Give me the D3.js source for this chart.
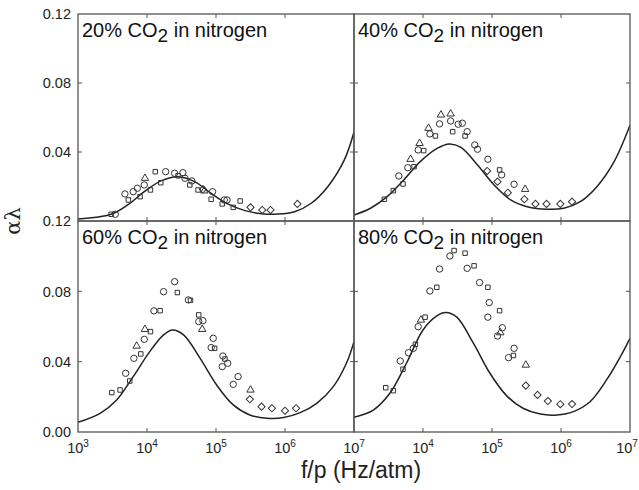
<!DOCTYPE html>
<html>
<head>
<meta charset="utf-8">
<script src="https://cdn.jsdelivr.net/npm/d3@7"></script>
<style>
  body { margin: 0; background: #fff; }
  svg { display: block; font-family: "Liberation Sans", Arial, sans-serif; }
</style>
</head>
<body>
<div id="chart"></div>
<script>
// x values are log10(f/p), y values are alpha*lambda
const mixtures = ['20%', '40%', '60%', '80%'];
const xTicks = [3, 4, 5, 6, 7];
const yTicks = [0, 0.04, 0.08, 0.12];

const curve20 = [[3.0,0.0012],[3.48,0.0039],[3.72,0.0093],[3.96,0.017],[4.21,0.0234],[4.45,0.0257],[4.69,0.0228],[4.93,0.016],[5.17,0.0099],[5.42,0.006],[5.66,0.0042],[5.90,0.0040],[6.14,0.0054],[6.38,0.0103],[6.62,0.0199],[6.86,0.0354],[7.0,0.0516]];
const curve40 = [[3.0,0.0035],[3.24,0.0074],[3.48,0.0141],[3.72,0.0238],[3.96,0.0344],[4.21,0.0422],[4.38,0.0447],[4.55,0.0427],[4.79,0.0325],[5.03,0.0209],[5.27,0.0122],[5.51,0.0083],[5.80,0.0068],[6.04,0.0074],[6.28,0.0112],[6.52,0.0199],[6.77,0.0344],[7.0,0.0555]];
const curve60 = [[3.0,0.0055],[3.32,0.0106],[3.56,0.0182],[3.80,0.0315],[4.04,0.0457],[4.24,0.0552],[4.37,0.058],[4.53,0.0552],[4.77,0.0419],[5.01,0.0267],[5.25,0.0154],[5.49,0.0097],[5.74,0.0078],[5.98,0.0082],[6.22,0.011],[6.46,0.0163],[6.70,0.0258],[6.89,0.0391],[7.0,0.0514]];
const curve80 = [[3.0,0.0084],[3.28,0.0125],[3.52,0.022],[3.76,0.0391],[4.0,0.058],[4.2,0.066],[4.33,0.0679],[4.49,0.0653],[4.73,0.0505],[4.97,0.0334],[5.21,0.0207],[5.45,0.0135],[5.70,0.0102],[5.94,0.0097],[6.18,0.0116],[6.42,0.0172],[6.66,0.0296],[6.86,0.0428],[7.0,0.0533]];

// o = circle, s = square, t = triangle, d = diamond
const points20 = [[3.48,0.0039,'s'],[3.54,0.0039,'o'],[3.68,0.0157,'o'],[3.73,0.0122,'s'],[3.80,0.017,'o'],[3.86,0.019,'o'],[3.90,0.0141,'s'],[3.96,0.0209,'o'],[3.97,0.0248,'t'],[4.05,0.018,'s'],[4.12,0.0286,'s'],[4.20,0.0222,'s'],[4.27,0.0286,'o'],[4.40,0.0277,'o'],[4.45,0.0262,'s'],[4.52,0.028,'o'],[4.55,0.0248,'o'],[4.62,0.0209,'s'],[4.65,0.0232,'o'],[4.74,0.018,'s'],[4.81,0.0184,'d'],[4.83,0.0175,'t'],[4.95,0.017,'o'],[4.93,0.0126,'s'],[5.12,0.0122,'o'],[5.16,0.0122,'o'],[5.09,0.0099,'s'],[5.25,0.0079,'s'],[5.35,0.0116,'s'],[5.50,0.0079,'d'],[5.67,0.0064,'d'],[5.79,0.0064,'d'],[6.18,0.0099,'d']];
const points40 = [[3.44,0.0126,'s'],[3.57,0.0176,'s'],[3.65,0.0261,'o'],[3.71,0.0215,'s'],[3.78,0.0309,'o'],[3.82,0.0358,'t'],[3.87,0.0315,'s'],[3.93,0.0412,'o'],[3.95,0.045,'t'],[4.01,0.0408,'s'],[4.08,0.0538,'t'],[4.10,0.0505,'o'],[4.18,0.0493,'s'],[4.24,0.0563,'o'],[4.26,0.0615,'t'],[4.40,0.0621,'t'],[4.40,0.058,'o'],[4.43,0.0518,'s'],[4.51,0.0561,'o'],[4.57,0.0567,'o'],[4.61,0.0493,'s'],[4.64,0.0518,'o'],[4.75,0.0441,'o'],[4.79,0.0416,'o'],[4.94,0.0358,'o'],[4.93,0.029,'d'],[5.11,0.0296,'s'],[5.14,0.0267,'o'],[5.08,0.0228,'d'],[5.32,0.0213,'o'],[5.23,0.0164,'d'],[5.48,0.0184,'t'],[5.47,0.0126,'d'],[5.63,0.0099,'d'],[5.79,0.0099,'d'],[5.99,0.0099,'d'],[6.16,0.0112,'d']];
const points60 = [[3.49,0.0224,'s'],[3.61,0.0239,'s'],[3.69,0.0334,'o'],[3.75,0.029,'s'],[3.81,0.0419,'o'],[3.85,0.0489,'t'],[3.91,0.0444,'s'],[3.96,0.0527,'o'],[3.97,0.0584,'t'],[4.05,0.0571,'s'],[4.10,0.0689,'o'],[4.19,0.069,'s'],[4.24,0.0798,'o'],[4.40,0.0855,'o'],[4.44,0.0793,'s'],[4.60,0.0751,'o'],[4.63,0.0749,'s'],[4.75,0.0666,'s'],[4.75,0.0628,'o'],[4.81,0.0633,'o'],[4.80,0.0584,'t'],[4.96,0.0533,'o'],[4.93,0.048,'o'],[4.98,0.0476,'s'],[5.10,0.0432,'o'],[5.13,0.0415,'s'],[5.17,0.0391,'o'],[5.09,0.0372,'o'],[5.32,0.0315,'o'],[5.25,0.0271,'o'],[5.50,0.0239,'t'],[5.49,0.0186,'d'],[5.66,0.0144,'d'],[5.81,0.0135,'d'],[6.00,0.0121,'d'],[6.16,0.0135,'d']];
const points80 = [[3.46,0.0252,'s'],[3.57,0.0235,'s'],[3.67,0.0404,'o'],[3.71,0.0357,'s'],[3.79,0.0451,'o'],[3.86,0.0476,'o'],[3.89,0.0499,'s'],[3.93,0.0599,'o'],[3.97,0.0637,'t'],[4.03,0.0653,'s'],[4.10,0.0802,'o'],[4.20,0.0823,'s'],[4.24,0.0927,'o'],[4.39,0.1001,'o'],[4.45,0.1032,'s'],[4.61,0.1017,'s'],[4.64,0.0931,'o'],[4.74,0.0945,'s'],[4.82,0.085,'o'],[4.94,0.0823,'s'],[4.96,0.0736,'o'],[4.94,0.0653,'o'],[5.11,0.069,'s'],[5.15,0.0593,'o'],[5.08,0.0546,'o'],[5.12,0.0565,'t'],[5.32,0.0476,'o'],[5.24,0.0423,'o'],[5.31,0.0435,'s'],[5.49,0.0381,'t'],[5.49,0.0264,'d'],[5.66,0.0211,'d'],[5.81,0.0176,'d'],[5.99,0.0158,'d'],[6.16,0.0159,'d']];

const curves = [curve20, curve40, curve60, curve80];
const pointSets = [points20, points40, points60, points80];

const width = 639, height = 490;
const left = 78, panelW = 276;
const rowTops = [14, 221], rowBottoms = [221, 432];
const ink = '#222';

const svg = d3.select('#chart').append('svg')
  .attr('width', width)
  .attr('height', height);

const symbols = {
  o: d3.symbol().type(d3.symbolCircle).size(32),
  s: d3.symbol().type(d3.symbolSquare).size(20),
  t: d3.symbol().type(d3.symbolTriangle).size(24),
  d: d3.symbol().type(d3.symbolSquare).size(26),
};

mixtures.forEach((label, i) => {
  const col = i % 2, row = Math.floor(i / 2);
  const x0 = left + col * panelW;
  const x = d3.scaleLog().domain([1e3, 1e7]).range([x0, x0 + panelW]);
  const y = d3.scaleLinear().domain([0, 0.12]).range([rowBottoms[row], rowTops[row]]);
  const g = svg.append('g');

  // clip for the theory curve
  const clipId = 'clip' + i;
  g.append('clipPath').attr('id', clipId)
    .append('rect')
    .attr('x', x0).attr('y', rowTops[row])
    .attr('width', panelW).attr('height', rowBottoms[row] - rowTops[row]);

  const line = d3.line()
    .x(d => x(Math.pow(10, d[0])))
    .y(d => y(d[1]))
    .curve(d3.curveCatmullRom);

  g.append('path')
    .datum(curves[i])
    .attr('clip-path', `url(#${clipId})`)
    .attr('fill', 'none')
    .attr('stroke', ink)
    .attr('stroke-width', 1.5)
    .attr('d', line);

  g.append('g')
    .selectAll('path')
    .data(pointSets[i])
    .join('path')
    .attr('transform', d => `translate(${x(Math.pow(10, d[0]))},${y(d[1])})` + (d[2] === 'd' ? ' rotate(45)' : ''))
    .attr('d', d => symbols[d[2]]())
    .attr('fill', 'none')
    .attr('stroke', '#333')
    .attr('stroke-width', 1);

  // frame
  g.append('rect')
    .attr('x', x0).attr('y', rowTops[row])
    .attr('width', panelW).attr('height', rowBottoms[row] - rowTops[row])
    .attr('fill', 'none')
    .attr('stroke', '#555')
    .attr('stroke-width', 1.3);

  // inward ticks on all four sides
  const ticks = g.append('g').attr('stroke', '#555').attr('stroke-width', 1);
  xTicks.slice(1, -1).forEach(e => {
    const tx = x(Math.pow(10, e));
    ticks.append('line').attr('x1', tx).attr('x2', tx).attr('y1', rowBottoms[row]).attr('y2', rowBottoms[row] - 4);
    ticks.append('line').attr('x1', tx).attr('x2', tx).attr('y1', rowTops[row]).attr('y2', rowTops[row] + 4);
  });
  yTicks.slice(1, -1).forEach(v => {
    ticks.append('line').attr('x1', x0).attr('x2', x0 + 4).attr('y1', y(v)).attr('y2', y(v));
    ticks.append('line').attr('x1', x0 + panelW).attr('x2', x0 + panelW - 4).attr('y1', y(v)).attr('y2', y(v));
  });

  // y tick labels on left column
  if (col === 0) {
    const labels = row === 0 ? yTicks.filter(v => v > 0) : yTicks;
    g.append('g')
      .selectAll('text')
      .data(labels)
      .join('text')
      .attr('x', x0 - 7)
      .attr('y', d => y(d))
      .attr('dy', '0.36em')
      .attr('text-anchor', 'end')
      .attr('font-size', 14.5)
      .attr('fill', ink)
      .text(d => d3.format('.2f')(d));
  }

  // x tick labels on bottom row; the last one is kept inside the picture
  if (row === 1) {
    const labels = col === 0 ? xTicks : xTicks.slice(1);
    const t = g.append('g')
      .selectAll('text')
      .data(labels)
      .join('text')
      .attr('x', d => Math.min(x(Math.pow(10, d)), width - 12))
      .attr('y', rowBottoms[row] + 21)
      .attr('text-anchor', 'middle')
      .attr('font-size', 14.5)
      .attr('fill', ink);
    t.append('tspan').text('10');
    t.append('tspan').attr('dy', -6).attr('font-size', 10).text(d => d);
  }

  // panel title
  const title = g.append('text')
    .attr('x', x0 + 4)
    .attr('y', rowTops[row] + 23)
    .attr('font-size', 20)
    .attr('fill', '#111');
  title.append('tspan').text(label + ' CO');
  title.append('tspan').attr('dy', 5).attr('font-size', 19).text('2');
  title.append('tspan').attr('dy', -5).text(' in nitrogen');
});

svg.append('text')
  .attr('transform', `translate(20,${rowTops[1]}) rotate(-90)`)
  .attr('text-anchor', 'middle')
  .attr('font-family', '"DejaVu Serif", "Liberation Serif", serif')
  .attr('font-size', 21)
  .attr('fill', ink)
  .text('αλ');

svg.append('text')
  .attr('x', 361)
  .attr('y', 478)
  .attr('text-anchor', 'middle')
  .attr('font-size', 23)
  .attr('fill', ink)
  .text('f/p (Hz/atm)');
</script>
</body>
</html>
